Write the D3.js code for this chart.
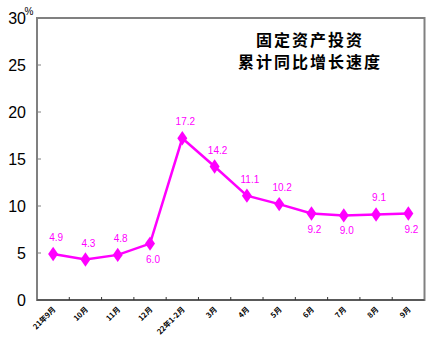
<!DOCTYPE html>
<html><head><meta charset="utf-8">
<script src="https://cdn.jsdelivr.net/npm/d3@7/dist/d3.min.js"></script>
<style>body{margin:0;background:#fff;}svg{display:block;}</style>
</head><body><svg id="c" width="428" height="354"></svg>
<script>
const categories = ["21年9月","10月","11月","12月","22年1-2月","3月","4月","5月","6月","7月","8月","9月"];
const values = [4.9,4.3,4.8,6.0,17.2,14.2,11.1,10.2,9.2,9.0,9.1,9.2];
const labelPos = ["above","above","above","below","above","above","above","above","below","below","above","below"];
const yTicks = [0,5,10,15,20,25,30];
const titleLines = ["固定资产投资","累计同比增长速度"];

const svg = d3.select("#c");
const L = 37, R = 424.5, T = 18, B = 300;
const x = d3.scaleBand().domain(categories).range([L, R]);
const y = d3.scaleLinear().domain([0,30]).range([B, T]);

// frame
svg.append("rect").attr("x", L).attr("y", T).attr("width", R-L).attr("height", B-T)
  .attr("fill","none").attr("stroke","#808080").attr("stroke-width",2);

// y ticks (inside) and labels
const ya = svg.append("g");
ya.selectAll("line").data(yTicks.filter(d=>d>0 && d<30)).join("line")
  .attr("x1", L).attr("x2", L+4).attr("y1", d=>y(d)).attr("y2", d=>y(d))
  .attr("stroke","#808080").attr("stroke-width",1);
ya.selectAll("text").data(yTicks).join("text")
  .attr("x", 26).attr("y", d=>y(d)+6).attr("text-anchor","end")
  .attr("font-family","Liberation Sans, Arial, sans-serif").attr("font-size",16)
  .attr("fill","#000").text(d=>d);
svg.append("text").attr("x",24.5).attr("y",15).attr("font-family","Liberation Sans, Arial, sans-serif")
  .attr("font-size",10).attr("fill","#000").text("%");

// x axis
svg.append("line").attr("x1",L).attr("x2",R).attr("y1",B).attr("y2",B).attr("stroke","#333").attr("stroke-width",1.2);
const edges = categories.map(c=>x(c)).concat([R]);
svg.append("g").selectAll("line").data(edges.slice(1,-1)).join("line")
  .attr("x1",d=>d).attr("x2",d=>d).attr("y1",B).attr("y2",B-3).attr("stroke","#333");
svg.append("g").selectAll("text").data(categories).join("text")
  .attr("transform", d=>`translate(${x(d)+x.bandwidth()/2+3},${B+10}) rotate(-45)`)
  .attr("text-anchor","end").attr("font-family","Noto Sans CJK SC, sans-serif")
  .attr("font-size",7.5).attr("font-weight","bold").attr("fill","#000").text(d=>d);

// line
const cx = d => x(d)+x.bandwidth()/2;
const line = d3.line().x((d,i)=>cx(categories[i])).y(d=>y(d));
svg.append("path").datum(values).attr("d",line).attr("fill","none")
  .attr("stroke","#FF00FF").attr("stroke-width",2.5);
svg.append("g").selectAll("path").data(values).join("path")
  .attr("d", d3.symbol().type(d3.symbolDiamond).size(60))
  .attr("transform",(d,i)=>`translate(${cx(categories[i])},${y(d)}) scale(1.2,1)`)
  .attr("fill","#FF00FF");
svg.append("g").selectAll("text").data(values).join("text")
  .attr("x",(d,i)=>cx(categories[i])+3)
  .attr("y",(d,i)=> labelPos[i]==="above" ? y(d)-13 : y(d)+19)
  .attr("text-anchor","middle").attr("font-family","Liberation Sans, Arial, sans-serif")
  .attr("font-size",10).attr("fill","#FF00FF").text(d=>d.toFixed(1));

// title
svg.append("g").selectAll("text").data(titleLines).join("text")
  .attr("x",310).attr("y",(d,i)=>46+i*22).attr("text-anchor","middle")
  .attr("font-family","Noto Sans CJK SC, sans-serif").attr("font-weight","bold")
  .attr("font-size",16).attr("letter-spacing",2).attr("fill","#000").text(d=>d);
</script></body></html>
